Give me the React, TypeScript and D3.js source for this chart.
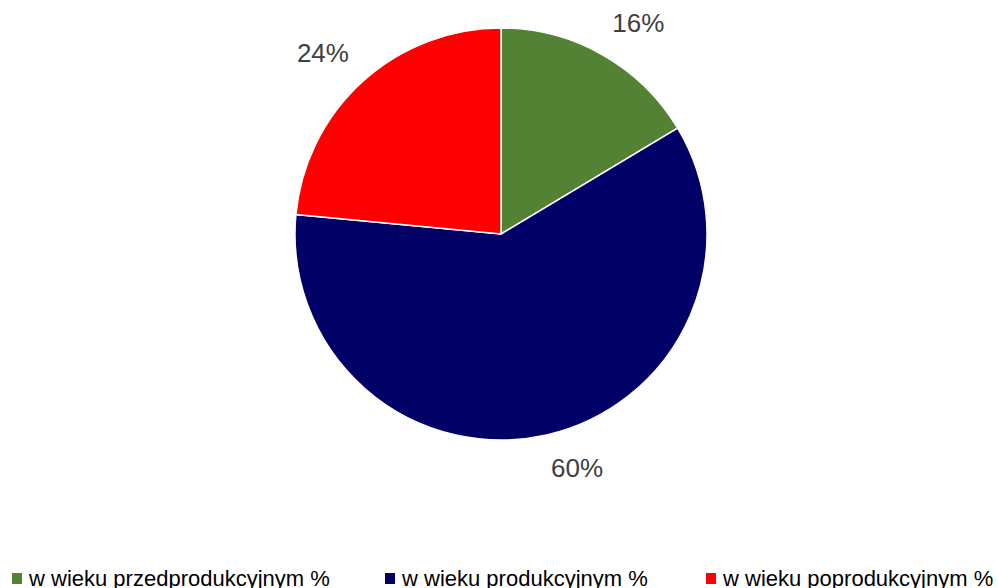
import React from "react";
import * as d3 from "d3";

const categories = [
  "w wieku przedprodukcyjnym %",
  "w wieku produkcyjnym %",
  "w wieku poprodukcyjnym %",
];
const values = [16.4, 60.1, 23.5];
const labels = ["16%", "60%", "24%"];
const colors = ["#548235", "#000066", "#FF0000"];

const W = 998;
const H = 588;
const cx = 501;
const cy = 234;
const R = 206;
const labelGap = 20;
const labelW = 52;
const labelH = 28;
const legendX = [12, 385, 706];

export default function App() {
  const pie = d3
    .pie<number>()
    .sort(null)
    .value((d) => d)
    .startAngle(0)
    .endAngle(2 * Math.PI);
  const arcs = pie(values);
  const arc = d3.arc<d3.PieArcDatum<number>>().innerRadius(0).outerRadius(R);

  return (
    <svg
      width={W}
      height={H}
      style={{ position: "absolute", left: 0, top: 0, background: "#fff" }}
    >
      <g transform={`translate(${cx},${cy})`}>
        {arcs.map((a, i) => (
          <path key={i} d={arc(a) || ""} fill={colors[i]} stroke="#fff" strokeWidth={1.5} />
        ))}
        {arcs.map((a, i) => {
          const mid = (a.startAngle + a.endAngle) / 2;
          const sx = Math.sin(mid);
          const sy = -Math.cos(mid);
          const px = sx * (R + labelGap);
          const py = sy * (R + labelGap);
          const x = px + (Math.sign(sx) * labelW) / 2;
          const y = py + (Math.sign(sy) * labelH) / 2;
          return (
            <text
              key={i}
              x={x}
              y={y}
              textAnchor="middle"
              dominantBaseline="central"
              fontFamily="'Liberation Sans', Arial, sans-serif"
              fontSize={26}
              fill="#404040"
            >
              {labels[i]}
            </text>
          );
        })}
      </g>
      {categories.map((c, i) => (
        <g key={i} transform={`translate(${legendX[i]},0)`}>
          <rect x={0} y={573} width={10} height={11} fill={colors[i]} />
          <text
            x={17}
            y={586}
            fontFamily="'Liberation Sans', Arial, sans-serif"
            fontSize={22}
            fill="#000"
          >
            {c}
          </text>
        </g>
      ))}
    </svg>
  );
}
